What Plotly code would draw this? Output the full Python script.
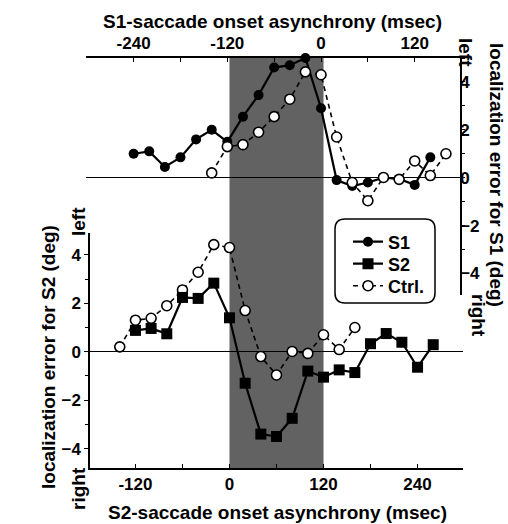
import plotly.graph_objects as go

# ---- data ----
s1_x = [-240, -220, -200, -180, -160, -140, -120, -100, -80, -60, -40, -20, 0, 20, 40, 60, 80, 100, 120, 140]
s1_y = [1.0, 1.1, 0.45, 0.85, 1.6, 2.0, 1.5, 2.55, 3.45, 4.6, 4.7, 5.0, 2.9, -0.1, -0.35, -0.2, 0.0, -0.05, -0.3, 0.85]

s2_x = [-120, -100, -80, -60, -40, -20, 0, 20, 40, 60, 80, 100, 120, 140, 160, 180, 200, 220, 240, 260]
s2_y = [0.88, 0.96, 0.74, 2.24, 2.2, 2.83, 1.4, -1.3, -3.4, -3.5, -2.75, -0.8, -1.05, -0.75, -0.86, 0.33, 0.75, 0.39, -0.64, 0.29]

ctrl_x = [-140, -120, -100, -80, -60, -40, -20, 0, 20, 40, 60, 80, 100, 120, 140, 160]
ctrl_y = [0.2, 1.3, 1.38, 1.9, 2.55, 3.28, 4.42, 4.3, 1.7, -0.2, -0.96, 0.01, -0.07, 0.7, 0.09, 1.0]

top_ticks = [-240, -180, -120, -60, 0, 60, 120]
top_ticktext = ["-240", "", "-120", "", "0", "", "120"]
bot_ticks = [-120, -60, 0, 60, 120, 180, 240]
bot_ticktext = ["-120", "", "0", "", "120", "", "240"]
y_ticks = [-4, -2, 0, 2, 4]

W, H = 508, 524
FONT = "Liberation Sans, Arial, sans-serif"

def px(x):
    return x / W

def py(y):
    return 1 - y / H

fig = go.Figure()

# S1 on top axes
fig.add_trace(go.Scatter(x=s1_x, y=s1_y, xaxis="x2", yaxis="y2", name="S1",
                         mode="lines+markers", line=dict(color="black", width=2.2),
                         marker=dict(symbol="circle", size=10, color="black"),
                         cliponaxis=False, showlegend=True, legend="legend"))
# Ctrl on top axes (S1 time)
fig.add_trace(go.Scatter(x=ctrl_x, y=ctrl_y, xaxis="x2", yaxis="y2", name="Ctrl.",
                         mode="lines+markers", line=dict(color="black", width=1.6, dash="5px,4px"),
                         marker=dict(symbol="circle", size=10, color="white",
                                     line=dict(color="black", width=1.6)),
                         cliponaxis=False, showlegend=False))
# Ctrl on bottom axes (S2 time)
fig.add_trace(go.Scatter(x=ctrl_x, y=ctrl_y, xaxis="x", yaxis="y", name="Ctrl.",
                         mode="lines+markers", line=dict(color="black", width=1.6, dash="5px,4px"),
                         marker=dict(symbol="circle", size=10, color="white",
                                     line=dict(color="black", width=1.6)),
                         cliponaxis=False, showlegend=True, legend="legend3"))
# S2 on bottom axes
fig.add_trace(go.Scatter(x=s2_x, y=s2_y, xaxis="x", yaxis="y", name="S2",
                         mode="lines+markers", line=dict(color="black", width=2.2),
                         marker=dict(symbol="square", size=11, color="black"),
                         cliponaxis=False, showlegend=True, legend="legend2"))

tickfont = dict(family=FONT, size=17, color="black", weight="bold")
legfont = dict(family=FONT, size=18, color="black", weight="bold")

def leg(ypix):
    return dict(x=px(348), y=py(ypix), xanchor="left", yanchor="middle",
                bgcolor="rgba(0,0,0,0)", borderwidth=0, font=legfont,
                itemwidth=30, tracegroupgap=0)

fig.update_layout(
    width=W, height=H,
    margin=dict(l=0, r=0, t=0, b=0),
    paper_bgcolor="white", plot_bgcolor="rgba(0,0,0,0)",
    font=dict(family=FONT, color="black"),
    xaxis=dict(domain=[px(90), px(463)], range=[-178, 298], anchor="y", side="bottom",
               showline=True, linecolor="black", linewidth=1.5, showgrid=False, zeroline=False,
               tickvals=bot_ticks, ticktext=bot_ticktext, ticks="inside", ticklen=4,
               tickcolor="black", tickfont=tickfont),
    yaxis=dict(domain=[py(468), py(233)], range=[-4.8, 4.9], anchor="x", side="left",
               showline=True, linecolor="black", linewidth=1.5, showgrid=False,
               zeroline=True, zerolinecolor="black", zerolinewidth=1.2,
               tickvals=y_ticks, ticks="outside", ticklen=4, tickcolor="black",
               minor=dict(dtick=1, ticks="outside", ticklen=3, tickcolor="black"),
               tickfont=tickfont),
    xaxis2=dict(domain=[px(86), px(460)], range=[-301, 178], anchor="y2", side="top",
                showline=True, linecolor="black", linewidth=1.5, showgrid=False, zeroline=False,
                tickvals=top_ticks, ticktext=top_ticktext, ticks="inside", ticklen=4,
                tickcolor="black", tickfont=tickfont),
    yaxis2=dict(domain=[py(295), py(58)], range=[-4.9, 5.0], anchor="x2", side="right",
                showline=True, linecolor="black", linewidth=1.5, showgrid=False,
                zeroline=True, zerolinecolor="black", zerolinewidth=1.2,
                tickvals=y_ticks, ticks="outside", ticklen=3, tickcolor="black",
                minor=dict(dtick=1, ticks="outside", ticklen=3, tickcolor="black"),
                ticklabelstandoff=-8, tickfont=tickfont),
    legend=leg(242),
    legend2=leg(264),
    legend3=leg(286),
    showlegend=True,
)

# shaded interval (S2 0..120 ms == S1 -120..0 ms)
fig.add_shape(type="rect", xref="x", yref="paper", x0=0, x1=120,
              y0=py(468), y1=py(58), fillcolor="#626262", line=dict(width=0), layer="below")

# rounded legend box
x0, x1, y0, y1, r = px(335), px(435), py(303), py(219), 10
rx, ry = r / W, r / H
path = (f"M {x0+rx},{y1} L {x1-rx},{y1} Q {x1},{y1} {x1},{y1-ry} "
        f"L {x1},{y0+ry} Q {x1},{y0} {x1-rx},{y0} L {x0+rx},{y0} "
        f"Q {x0},{y0} {x0},{y0+ry} L {x0},{y1-ry} Q {x0},{y1} {x0+rx},{y1} Z")
fig.add_shape(type="path", xref="paper", yref="paper", path=path,
              line=dict(color="black", width=1.5), fillcolor="white", layer="below")

titlefont = dict(family=FONT, size=19, color="black", weight="bold")
ann = [
    dict(text="S1-saccade onset asynchrony (msec)", x=px(272), y=py(21), textangle=0),
    dict(text="S2-saccade onset asynchrony (msec)", x=px(277), y=py(512), textangle=0),
    dict(text="localization error for S1 (deg)", x=px(497), y=py(175), textangle=90),
    dict(text="localization error for S2 (deg)", x=px(48), y=py(357), textangle=-90),
    dict(text="left", x=px(466), y=py(52), textangle=90),
    dict(text="right", x=px(479), y=py(315), textangle=90),
    dict(text="left", x=px(78), y=py(222), textangle=-90),
    dict(text="right", x=px(78), y=py(489), textangle=-90),
]
for a in ann:
    fig.add_annotation(xref="paper", yref="paper", xanchor="center", yanchor="middle",
                       showarrow=False, font=titlefont, **a)

fig.write_html("out.html")
